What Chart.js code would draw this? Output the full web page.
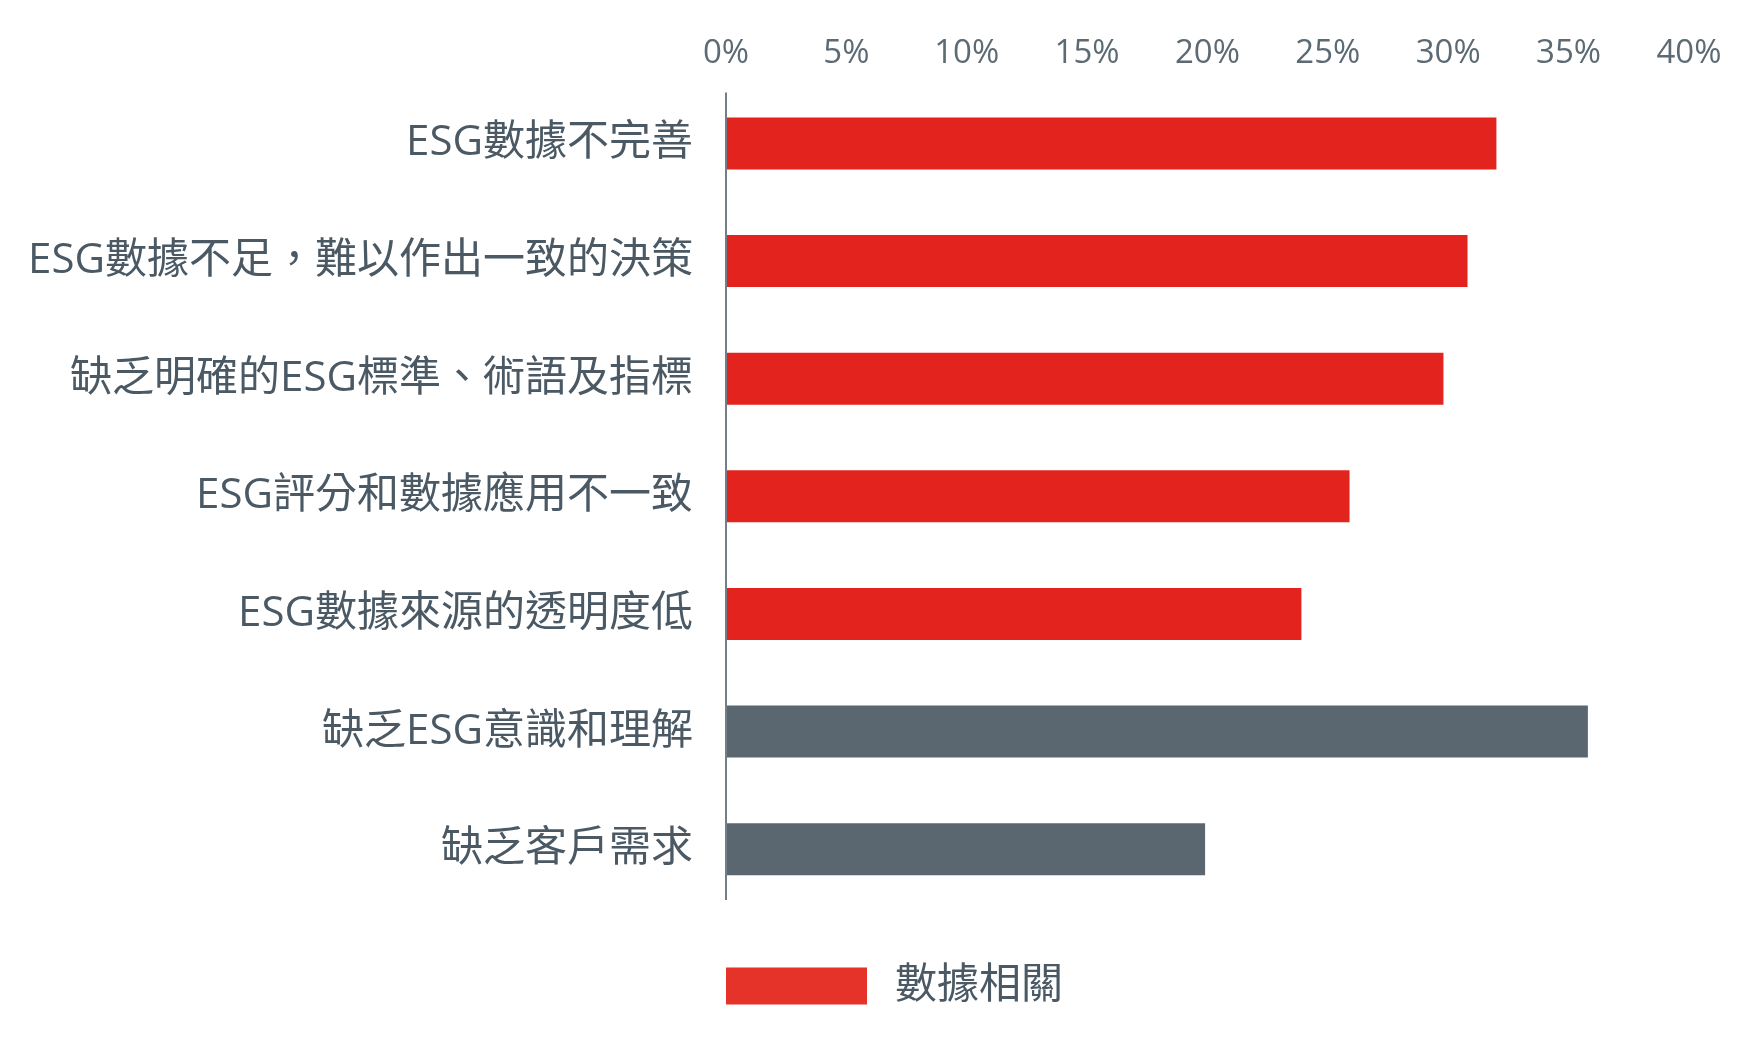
<!DOCTYPE html>
<html>
<head>
<meta charset="utf-8">
<script src="https://cdn.jsdelivr.net/npm/chart.js@4"></script>
<style>
  html, body { margin: 0; padding: 0; background: #ffffff; }
  #wrap { width: 1746px; height: 1043px; }
</style>
</head>
<body>
<div id="wrap"><canvas id="esg-chart" width="1746" height="1043"></canvas></div>
<script>
// Chart data
const categories = [
  'ESG數據不完善',
  'ESG數據不足，難以作出一致的決策',
  '缺乏明確的ESG標準、術語及指標',
  'ESG評分和數據應用不一致',
  'ESG數據來源的透明度低',
  '缺乏ESG意識和理解',
  '缺乏客戶需求'
];
const values = [32.0, 30.8, 29.8, 25.9, 23.9, 35.8, 19.9];
const isDataRelated = [true, true, true, true, true, false, false];
const legendLabel = '數據相關';
const tickValues = [0, 5, 10, 15, 20, 25, 30, 35, 40];

const RED = '#e2231e';
const RED_LEGEND = '#e5332a';
const GREY = '#5b6770';
const LABEL_COLOR = '#4a5964';
const TICK_COLOR = '#5c6a74';
const FONT = '"Open Sans", "Noto Sans CJK TC", sans-serif';

// split values into the two groups (null where not in group)
const relatedData = values.map((v, i) => isDataRelated[i] ? v : null);
const otherData = values.map((v, i) => isDataRelated[i] ? null : v);

// draws the vertical axis line a little inset from the plot area ends
const axisLinePlugin = {
  id: 'axisLine',
  afterDatasetsDraw(chart) {
    const { ctx, chartArea } = chart;
    const x = chart.scales.x.getPixelForValue(0);
    ctx.save();
    ctx.strokeStyle = '#737f87';
    ctx.lineWidth = 2;
    ctx.beginPath();
    ctx.moveTo(x, chartArea.top + 8);
    ctx.lineTo(x, chartArea.bottom - 8);
    ctx.stroke();
    ctx.restore();
  }
};

new Chart(document.getElementById('esg-chart').getContext('2d'), {
  type: 'bar',
  data: {
    labels: categories,
    datasets: [{
      label: legendLabel,
      data: relatedData,
      backgroundColor: RED,
      borderWidth: 0,
      grouped: false,
      categoryPercentage: 1,
      barPercentage: 0.442
    }, {
      label: 'other',
      data: otherData,
      backgroundColor: GREY,
      borderWidth: 0,
      grouped: false,
      categoryPercentage: 1,
      barPercentage: 0.442
    }]
  },
  options: {
    indexAxis: 'y',
    responsive: false,
    devicePixelRatio: 1,
    animation: false,
    layout: {
      padding: { top: 23, right: 57, bottom: 26, left: 0 }
    },
    plugins: {
      tooltip: { enabled: false },
      legend: {
        display: true,
        position: 'bottom',
        align: 'start',
        fullSize: false,
        title: {
          display: true,
          text: '',
          font: { size: 1, lineHeight: 1 },
          padding: { top: 56, bottom: 0 }
        },
        labels: {
          padding: 0,
          boxWidth: 141,
          boxHeight: 37,
          color: LABEL_COLOR,
          font: { family: FONT, size: 42 },
          filter: (item) => item.datasetIndex === 0,
          generateLabels: (chart) => {
            const items = Chart.defaults.plugins.legend.labels.generateLabels(chart);
            items.forEach(it => {
              it.fillStyle = RED_LEGEND;
              it.lineWidth = 0;
              it.text = '\u2009' + it.text;
            });
            return items;
          }
        }
      }
    },
    scales: {
      x: {
        position: 'top',
        min: 0,
        max: 40,
        afterBuildTicks: (scale) => {
          scale.ticks = tickValues.map(v => ({ value: v }));
        },
        grid: { display: false, drawTicks: false },
        border: { display: false },
        ticks: {
          padding: 11,
          color: TICK_COLOR,
          font: { family: FONT, size: 33 },
          maxRotation: 0,
          callback: (value) => value + '%'
        }
      },
      y: {
        afterFit: (scale) => { scale.width = 726; },
        grid: { display: false, drawTicks: false },
        border: { display: false },
        ticks: {
          padding: 33,
          color: LABEL_COLOR,
          font: { family: FONT, size: 42 }
        }
      }
    }
  },
  plugins: [axisLinePlugin]
});
</script>
</body>
</html>
